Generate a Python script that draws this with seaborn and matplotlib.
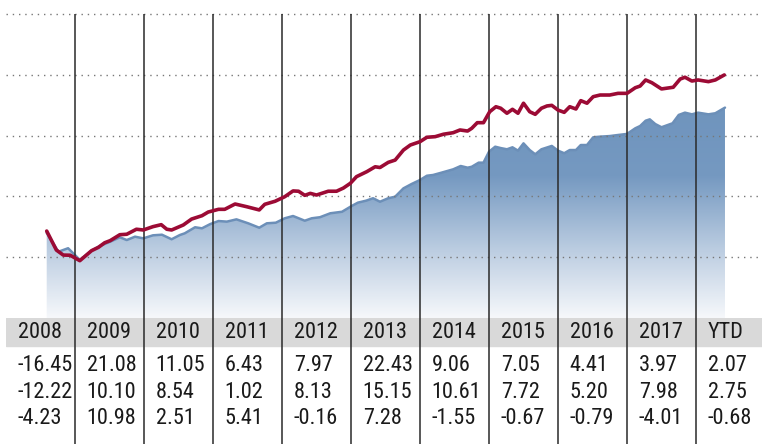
import numpy as np
import pandas as pd
import matplotlib
matplotlib.use("Agg")
import matplotlib.pyplot as plt
from matplotlib import font_manager
from matplotlib.colors import LinearSegmentedColormap
import seaborn as sns

# ----------------------------------------------------
# Datos
# ----------------------------------------------------

# Fondo (linea roja) - fecha en años decimales y valor
red_x = [2008.59, 2008.73, 2008.83, 2008.93, 2009.07, 2009.24, 2009.34, 2009.43, 2009.51, 2009.65,
         2009.75, 2009.89, 2009.99, 2010.13, 2010.25, 2010.33, 2010.40, 2010.57, 2010.69, 2010.84,
         2010.93, 2011.08, 2011.17, 2011.32, 2011.49, 2011.67, 2011.75, 2011.90, 2012.04, 2012.16,
         2012.24, 2012.33, 2012.41, 2012.50, 2012.67, 2012.79, 2012.89, 2012.99, 2013.08, 2013.23,
         2013.35, 2013.42, 2013.54, 2013.64, 2013.76, 2013.86, 2014.00, 2014.10, 2014.22, 2014.34,
         2014.48, 2014.58, 2014.69, 2014.75, 2014.83, 2014.92, 2015.01, 2015.10, 2015.17, 2015.26,
         2015.34, 2015.42, 2015.50, 2015.59, 2015.67, 2015.76, 2015.84, 2015.91, 2016.00, 2016.09,
         2016.17, 2016.26, 2016.33, 2016.42, 2016.51, 2016.61, 2016.75, 2016.87, 2017.00, 2017.12,
         2017.19, 2017.27, 2017.36, 2017.50, 2017.67, 2017.77, 2017.84, 2017.94, 2018.03, 2018.18,
         2018.28, 2018.41]
red_y = [9.72, 8.47, 8.14, 8.13, 7.77, 8.43, 8.65, 8.95, 9.09, 9.48,
         9.51, 9.84, 9.79, 10.01, 10.14, 9.84, 9.79, 10.12, 10.51, 10.73,
         10.97, 11.15, 11.15, 11.50, 11.32, 11.11, 11.48, 11.68, 11.98, 12.36,
         12.34, 12.07, 12.20, 12.09, 12.34, 12.34, 12.55, 12.86, 13.30, 13.63,
         13.95, 13.90, 14.24, 14.39, 15.05, 15.38, 15.60, 15.89, 15.93, 16.09,
         16.19, 16.37, 16.30, 16.48, 16.85, 16.85, 17.57, 17.90, 17.80, 17.47,
         17.73, 17.47, 18.13, 17.57, 17.40, 17.80, 17.95, 17.99, 17.68, 17.53,
         17.90, 17.75, 18.30, 18.13, 18.56, 18.67, 18.67, 18.78, 18.78, 19.15,
         19.26, 19.66, 19.48, 19.07, 19.18, 19.72, 19.84, 19.59, 19.66, 19.55,
         19.66, 19.99]

# Indice (area azul)
blue_x = [2008.59, 2008.76, 2008.90, 2009.00, 2009.07, 2009.24, 2009.36, 2009.51, 2009.65, 2009.75,
          2009.87, 2009.99, 2010.13, 2010.26, 2010.40, 2010.52, 2010.59, 2010.74, 2010.84, 2010.96,
          2011.08, 2011.20, 2011.34, 2011.51, 2011.67, 2011.78, 2011.91, 2012.04, 2012.16, 2012.33,
          2012.43, 2012.55, 2012.70, 2012.87, 2013.01, 2013.10, 2013.22, 2013.32, 2013.42, 2013.54,
          2013.64, 2013.76, 2013.88, 2014.00, 2014.10, 2014.19, 2014.31, 2014.48, 2014.59, 2014.69,
          2014.75, 2014.85, 2014.92, 2015.00, 2015.09, 2015.17, 2015.26, 2015.34, 2015.42, 2015.50,
          2015.59, 2015.67, 2015.76, 2015.91, 2016.00, 2016.09, 2016.17, 2016.26, 2016.33, 2016.42,
          2016.51, 2016.61, 2016.75, 2016.87, 2017.00, 2017.12, 2017.19, 2017.27, 2017.33, 2017.41,
          2017.50, 2017.66, 2017.75, 2017.84, 2017.94, 2018.03, 2018.18, 2018.28, 2018.42]
blue_y = [9.60, 8.36, 8.59, 8.14, 7.82, 8.43, 8.74, 9.02, 9.31, 9.13,
          9.35, 9.24, 9.44, 9.48, 9.18, 9.46, 9.57, 9.97, 9.90, 10.18,
          10.38, 10.34, 10.49, 10.23, 9.94, 10.23, 10.27, 10.56, 10.71, 10.40,
          10.56, 10.63, 10.89, 10.99, 11.37, 11.59, 11.72, 11.88, 11.65, 11.88,
          11.98, 12.53, 12.82, 13.08, 13.36, 13.41, 13.56, 13.78, 14.00, 13.89,
          13.95, 14.22, 14.22, 14.94, 15.27, 15.18, 15.10, 15.23, 15.01, 15.49,
          15.05, 14.77, 15.10, 15.32, 15.01, 14.84, 15.05, 15.05, 15.38, 15.38,
          15.89, 15.93, 15.97, 16.04, 16.11, 16.48, 16.63, 16.98, 17.07, 16.76,
          16.55, 16.81, 17.36, 17.51, 17.40, 17.51, 17.40, 17.47, 17.84]

# Tabla de rentabilidades
col_labels = ["2008", "2009", "2010", "2011", "2012", "2013", "2014", "2015", "2016", "2017", "YTD"]
row_fund = ["-16.45", "21.08", "11.05", "6.43", "7.97", "22.43", "9.06", "7.05", "4.41", "3.97", "2.07"]
row_index = ["-12.22", "10.10", "8.54", "1.02", "8.13", "15.15", "10.61", "7.72", "5.20", "7.98", "2.75"]
row_diff = ["-4.23", "10.98", "2.51", "5.41", "-0.16", "7.28", "-1.55", "-0.67", "-0.79", "-4.01", "-0.68"]

grid_levels = [8, 12, 16, 20, 24]

# ----------------------------------------------------
# Estilo
# ----------------------------------------------------
sns.set_style("white")
names = {f.name for f in font_manager.fontManager.ttflist}
table_family = [f for f in ["Roboto Condensed", "PT Sans Narrow", "Archivo Narrow"] if f in names]
table_family.append("DejaVu Sans")

red = "#9c0b35"
blue_edge = "#6c8fb8"

df_red = pd.DataFrame({"fecha": red_x, "valor": red_y})
df_blue = pd.DataFrame({"fecha": blue_x, "valor": blue_y})

fig = plt.figure(figsize=(7.62, 4.44), dpi=100)
x0, x1 = 2008, 2008 + 756 / 69
y_bot, y_top = 4, 4 + 318 / 15.2

ax = fig.add_axes([6 / 762, 126 / 444, 756 / 762, 318 / 444])
axt = fig.add_axes([6 / 762, 0, 756 / 762, 126 / 444])

# Area con degradado
poly = ax.fill_between(df_blue["fecha"], y_bot, df_blue["valor"], facecolor="none", edgecolor="none")
cmap = LinearSegmentedColormap.from_list("azul", ["#f6f8fb", "#b9cbe0", "#7599c1", "#6f94bd"])
grad = np.linspace(0, 1, 256).reshape(-1, 1)
im = ax.imshow(grad, extent=[x0, x1, y_bot, 18.0], origin="lower", aspect="auto", cmap=cmap, zorder=1)
im.set_clip_path(poly.get_paths()[0], transform=ax.transData)

sns.lineplot(data=df_blue, x="fecha", y="valor", color=blue_edge, linewidth=1.8, ax=ax, zorder=2)
sns.lineplot(data=df_red, x="fecha", y="valor", color=red, linewidth=2.6, ax=ax, zorder=4)

# Rejilla punteada y separadores de año
for g in grid_levels:
    ax.axhline(g, color="#777777", linewidth=1.0, linestyle=(0, (1, 3.5)), zorder=3)
years = np.arange(2009, 2019)
ax.vlines(years, y_bot, 24, color="#2a2a2a", linewidth=1.1, zorder=3)

ax.set_xlim(x0, x1)
ax.set_ylim(y_bot, y_top)
ax.set_xlabel("")
ax.set_ylabel("")
ax.set_xticks([])
ax.set_yticks([])
for s in ax.spines.values():
    s.set_visible(False)

# ----------------------------------------------------
# Tabla
# ----------------------------------------------------
axt.set_xlim(x0, x1)
axt.set_ylim(126, 0)
axt.axhspan(0, 28, color="#d9d9d9", zorder=0)
axt.vlines(years, 0, 126, color="#2a2a2a", linewidth=1.1, zorder=2)
rows = [(col_labels, 14), (row_fund, 47), (row_index, 74), (row_diff, 100)]
for labels, yy in rows:
    for i, lab in enumerate(labels):
        axt.text(2008 + i + 0.17, yy, lab, ha="left", va="center", fontsize=16,
                 color="#1a1a1a", zorder=3, family=table_family)
axt.set_xticks([])
axt.set_yticks([])
for s in axt.spines.values():
    s.set_visible(False)

fig.savefig("out.png", dpi=100)
